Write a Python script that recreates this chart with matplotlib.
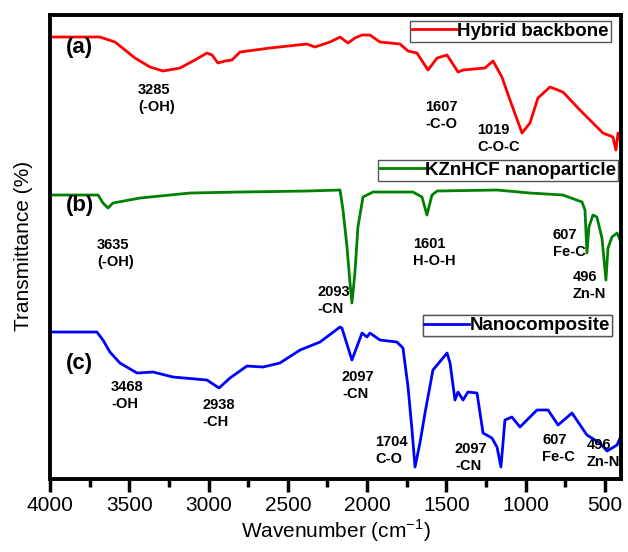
import numpy as np
import matplotlib
matplotlib.use('Agg')
import matplotlib.pyplot as plt
from matplotlib.ticker import MultipleLocator

plt.rcParams['font.family'] = ['Liberation Sans', 'DejaVu Sans']
plt.rcParams['mathtext.fontset'] = 'custom'
plt.rcParams['mathtext.rm'] = 'Liberation Sans'

# (a) hybrid backbone, offset transmittance (a.u.)
wn_a = [3994, 3685, 3590, 3464, 3369, 3287, 3180, 3086, 3010, 2978, 2941, 2896, 2852, 2802,
        2613, 2379, 2329, 2234, 2171, 2121, 2077, 2032, 1982, 1919, 1793, 1742, 1686, 1616,
        1559, 1496, 1427, 1395, 1257, 1206, 1150, 1099, 1023, 973, 923, 847, 765, 658, 513,
        450, 431, 418, 405]
t_a = [442, 442, 437, 421, 412, 408, 411, 419, 426, 424, 416, 418, 419, 427,
       431, 435, 432, 437, 442, 436, 441, 444, 444, 437, 435, 428, 426, 409,
       421, 424, 407, 409, 411, 418, 402, 379, 346, 356, 381, 392, 387, 369, 346,
       342, 329, 346, 339]

# (b) KZnHCF nanoparticle
wn_b = [3994, 3697, 3666, 3634, 3603, 3432, 3117, 2802, 2379, 2171, 2152, 2127, 2108, 2096,
        2077, 2058, 2026, 1963, 1711, 1654, 1623, 1591, 1559, 1181, 973, 765, 645, 626,
        614, 601, 576, 551, 519, 494, 481, 456, 424, 405]
t_b = [284, 284, 276, 271, 276, 281, 286, 287, 288, 289, 269, 232, 196, 176,
       206, 252, 282, 287, 287, 282, 264, 284, 288, 289, 286, 284, 277, 269,
       226, 252, 264, 262, 241, 199, 231, 242, 246, 239]

# (c) nanocomposite
wn_c = [3994, 3704, 3666, 3622, 3559, 3451, 3350, 3224, 3010, 2934, 2865, 2758, 2657, 2550,
        2423, 2297, 2171, 2159, 2096, 2032, 2001, 1982, 1919, 1812, 1774, 1742, 1717, 1698,
        1667, 1635, 1585, 1496, 1477, 1446, 1427, 1395, 1364, 1307, 1269, 1213, 1181, 1156,
        1131, 1087, 1036, 929, 859, 796, 708, 614, 532, 487, 424, 405]
t_c = [147, 147, 139, 127, 116, 106, 107, 102, 99, 91, 101, 113, 112, 116,
       129, 137, 152, 151, 119, 146, 142, 146, 139, 137, 131, 92, 49, 12,
       36, 66, 109, 126, 116, 79, 87, 79, 87, 86, 46, 41, 32, 12,
       59, 62, 52, 69, 69, 54, 66, 44, 36, 28, 34, 41]

labels = ['Hybrid backbone', 'KZnHCF nanoparticle', 'Nanocomposite']
colors = ['red', 'green', 'blue']

# band annotations: text, wavenumber, level
peaks = [('3285\n(-OH)', 3445, 396), ('1607\n-C-O', 1635, 379), ('1019\nC-O-C', 1307, 356),
         ('3635\n(-OH)', 3704, 241), ('2093\n-CN', 2316, 194), ('1601\nH-O-H', 1711, 242),
         ('607\nFe-C', 828, 251), ('496\nZn-N', 702, 209),
         ('3468\n-OH', 3615, 99), ('2938\n-CH', 3041, 81), ('2097\n-CN', 2159, 109),
         ('1704\nC-O', 1950, 44), ('2097\n-CN', 1446, 37), ('607\nFe-C', 897, 46),
         ('496\nZn-N', 614, 41)]

panels = [('(a)', 432), ('(b)', 274), ('(c)', 116)]

fig = plt.figure(figsize=(6.28, 5.52), dpi=100)
ax = fig.add_axes([0.0796, 0.1322, 0.909, 0.8406])

lines = []
for wn, t, c in zip([wn_a, wn_b, wn_c], [t_a, t_b, t_c], colors):
    l, = ax.plot(wn, t, color=c, linewidth=2)
    lines.append(l)

ax.set_xlim(4000, 400)
ax.set_ylim(0, 464)
ax.xaxis.set_major_locator(MultipleLocator(500))
ax.xaxis.set_minor_locator(MultipleLocator(250))
ax.set_yticks([])
ax.tick_params(axis='x', which='major', direction='out', length=9, width=2.5, labelsize=15, pad=3)
ax.tick_params(axis='x', which='minor', direction='out', length=6, width=2.5)
for s in ax.spines.values():
    s.set_linewidth(2.8)

for txt, x, y in peaks:
    ax.text(x, y, txt, ha='left', va='top', fontsize=10.5, fontweight='bold',
            linespacing=1.25)
for txt, y in panels:
    ax.text(3899, y, txt, ha='left', va='center', fontsize=16, fontweight='bold')

anchors = [(0.982, 0.987), (0.995, 0.6875), (0.984, 0.353)]
for l, lab, anc in zip(lines, labels, anchors):
    lg = ax.legend([l], [lab], loc='upper right', bbox_to_anchor=anc, borderaxespad=0,
                   fancybox=False, edgecolor='#555555', framealpha=1,
                   prop={'size': 13.5, 'weight': 'bold'}, handlelength=2.4,
                   handletextpad=0.0, borderpad=0.1)
    lg.get_frame().set_linewidth(1.0)
    ax.add_artist(lg)

ax.set_xlabel('Wavenumber (cm$^{-1}$)', fontsize=15, labelpad=2)
fig.text(0.037, 0.555, 'Transmittance (%)', rotation=90, ha='center', va='center', fontsize=15)

fig.savefig('out.png', dpi=100)
